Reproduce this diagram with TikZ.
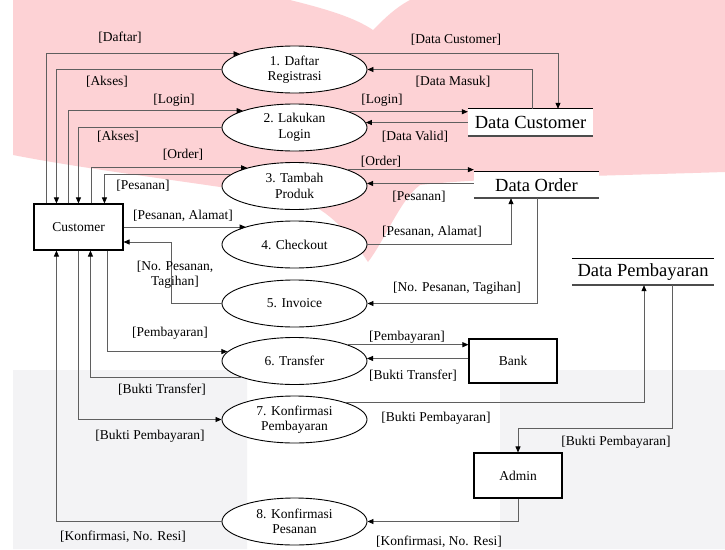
\documentclass[tikz,border=0pt]{standalone}
\usepackage{fontspec}
\setmainfont{Liberation Serif}
\usetikzlibrary{shapes.geometric,arrows.meta}
\definecolor{wmpink}{RGB}{253,210,213}
\definecolor{wmgray}{RGB}{243,243,245}
\definecolor{flowgray}{RGB}{95,95,95}
\begin{document}
\begin{tikzpicture}[x=1pt,y=-1pt,
  every node/.style={font=\fontsize{13.5}{15.5}\selectfont},
  proc/.style={draw=black,line width=0.9pt,fill=white,ellipse,minimum width=145pt,minimum height=47pt,inner sep=0pt,align=center},
  ent/.style={draw=black,line width=1.1pt,fill=white,rectangle,inner sep=0pt},
  store/.style={fill=white,inner sep=0pt,font=\fontsize{18.5}{20}\selectfont},
  flow/.style={draw=flowgray,line width=0.8pt,-{Triangle[length=6pt,width=5pt,color=black]}},
  lbl/.style={inner sep=1pt}
]
\useasboundingbox (0,0) rectangle (725,549);
\fill[white] (0,0) rectangle (725,549);
% watermark
\fill[wmpink] (13,0) -- (290,0) .. controls (330,10) and (355,18) .. (373,30)
  .. controls (385,18) and (395,8) .. (410,0) -- (725,0) -- (725,172)
  .. controls (600,176) and (480,178) .. (420,185)
  .. controls (400,200) and (385,240) .. (368,262)
  .. controls (350,235) and (330,210) .. (300,200)
  .. controls (220,185) and (100,172) .. (13,155) -- cycle;
\fill[wmgray] (13,549) -- (13,370) -- (232,370) arc[start angle=90,end angle=0,radius=15] -- (247,549) -- cycle;
\fill[wmgray] (725,549) -- (725,370) -- (520,370) arc[start angle=90,end angle=180,radius=20] -- (500,549) -- cycle;

% nodes
\node[ent,minimum width=89pt,minimum height=46pt] (cust) at (78.5,227) {Customer};
\node[proc] (e1) at (294.5,69.5) {1. Daftar\\Registrasi};
\node[proc] (e2) at (294.5,127.5) {2. Lakukan\\Login};
\node[proc] (e3) at (294.5,186) {3. Tambah\\Produk};
\node[proc] (e4) at (294.5,244.5) {4. Checkout};
\node[proc] (e5) at (294.5,303.5) {5. Invoice};
\node[proc] (e6) at (294.5,361) {6. Transfer};
\node[proc] (e7) at (294.5,419.5) {7. Konfirmasi\\Pembayaran};
\node[proc] (e8) at (294.5,521.5) {8. Konfirmasi\\Pesanan};
\node[store,minimum width=125pt,minimum height=27pt] (dc) at (530.5,122.5) {Data Customer};
\node[store,minimum width=125pt,minimum height=26pt] (do) at (536.5,185) {Data Order};
\node[store,minimum width=142pt,minimum height=26pt] (dp) at (643,272) {Data Pembayaran};
\node[ent,minimum width=88pt,minimum height=44pt] (bank) at (513,361) {Bank};
\node[ent,minimum width=88pt,minimum height=45pt] (admin) at (518,475.5) {Admin};
\foreach \s in {dc,do,dp}{
  \draw[line width=1pt] (\s.north west) -- (\s.north east);
  \draw[line width=1.6pt,draw=black!70] (\s.south west) -- (\s.south east);
}

% left side connectors
\draw[flow] ([xshift=13pt]cust.north west) |- (e1.164);
\draw[flow] (e1.west) -| ([xshift=23pt]cust.north west);
\draw[flow] ([xshift=35pt]cust.north west) |- (e2.162);
\draw[flow] (e2.west) -| ([xshift=45pt]cust.north west);
\draw[flow] ([xshift=58pt]cust.north west) |- (e3.159);
\draw[flow] (e3.170) -| ([xshift=71pt]cust.north west);
\draw[flow] (cust.east) -- (cust.east -| e4.160);
\draw[flow] (e5.west) -- ++(-50,0) |- ([yshift=-15pt]cust.east);
\draw[flow] ([xshift=-16pt]cust.south east) |- (e6.172);
\draw[flow] (e6.197) -| ([xshift=57pt]cust.south west);
\draw[flow] ([xshift=45pt]cust.south west) |- (e7.west);
\draw[flow] (e8.west) -| ([xshift=23pt]cust.south west);

% right side connectors
\draw[flow] (e1.16) -| ([xshift=27.5pt]dc.north);
\draw[flow] ([xshift=1.5pt]dc.north) |- (e1.east);
\draw[flow] (e2.16) -- (e2.16 -| dc.west);
\draw[flow] (e2.4 -| dc.west) -- (e2.4);
\draw[flow] (e3.17) -- (e3.17 -| do.west);
\draw[flow] (e3.2 -| do.west) -- (e3.2);
\draw[flow] (e4.east) -| ([xshift=-25.5pt]do.south);
\draw[flow] ([xshift=0.5pt]do.south) |- (e5.east);
\draw[flow] (e6.17) -- (e6.17 -| bank.west);
\draw[flow] (e6.2 -| bank.west) -- (e6.2);
\draw[flow] (e7.18) -| ([xshift=1pt]dp.south);
\draw[flow] ([xshift=29pt]dp.south) -- ++(0,143) -| (admin.north);
\draw[flow] (admin.south) |- (e8.east);

% labels
\node[lbl] (l1) at (120,38) {[Daftar]};
\node[lbl] (l2) at (456,40) {[Data Customer]};
\node[lbl] (l3) at (107,82) {[Akses]};
\node[lbl] (l4) at (453,82) {[Data Masuk]};
\node[lbl] (l5) at (174,100) {[Login]};
\node[lbl] (l6) at (382,100) {[Login]};
\node[lbl] (l7) at (118,137) {[Akses]};
\node[lbl] (l8) at (415,137) {[Data Valid]};
\node[lbl] (l9) at (183,155) {[Order]};
\node[lbl] (l10) at (381,162) {[Order]};
\node[lbl] (l11) at (143,186) {[Pesanan]};
\node[lbl] (l12) at (419,197) {[Pesanan]};
\node[lbl] (l13) at (183,216) {[Pesanan, Alamat]};
\node[lbl] (l14) at (432,232) {[Pesanan, Alamat]};
\node[lbl,align=center] (l15) at (175,275) {[No. Pesanan,\\Tagihan]};
\node[lbl] (l16) at (457,288) {[No. Pesanan, Tagihan]};
\node[lbl] (l17) at (170,333) {[Pembayaran]};
\node[lbl] (l18) at (407,337) {[Pembayaran]};
\node[lbl] (l19) at (162,390) {[Bukti Transfer]};
\node[lbl] (l20) at (413,376) {[Bukti Transfer]};
\node[lbl] (l21) at (150,436) {[Bukti Pembayaran]};
\node[lbl] (l22) at (436,418) {[Bukti Pembayaran]};
\node[lbl] (l23) at (616,442) {[Bukti Pembayaran]};
\node[lbl] (l24) at (123,537) {[Konfirmasi, No. Resi]};
\node[lbl] (l25) at (439,542) {[Konfirmasi, No. Resi]};
\end{tikzpicture}
\end{document}
